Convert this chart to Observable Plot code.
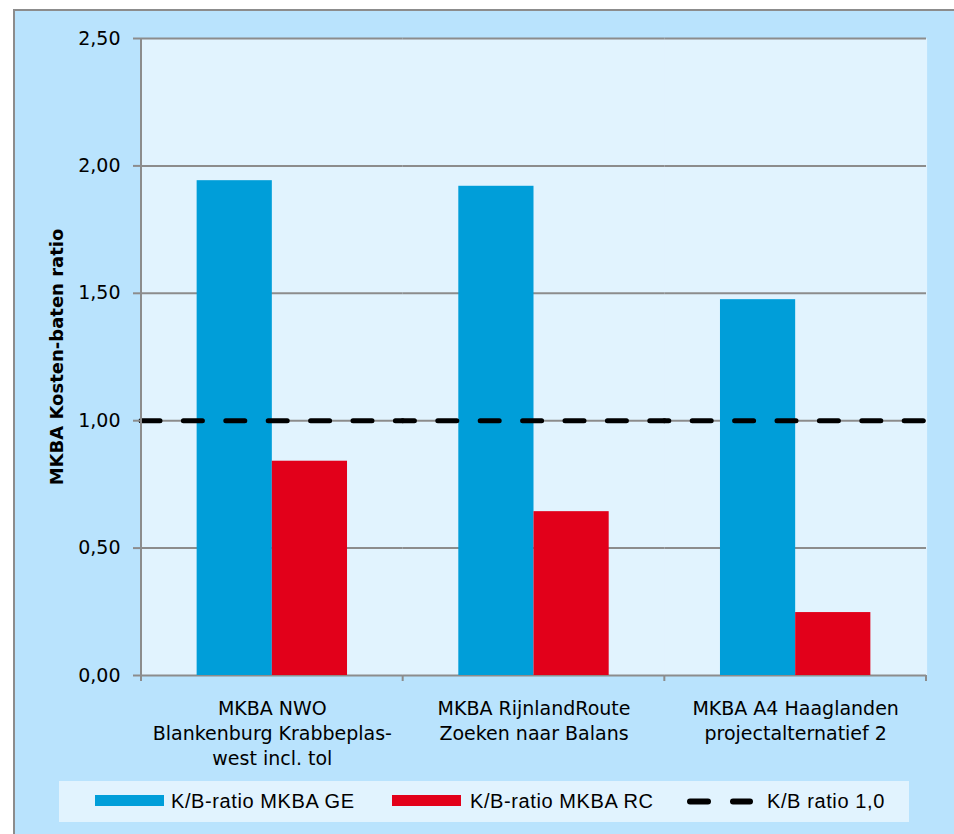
<!DOCTYPE html>
<html><head><meta charset="utf-8">
<script src="https://cdn.jsdelivr.net/npm/d3@7"></script>
<script src="https://cdn.jsdelivr.net/npm/@observablehq/plot@0.6"></script>
<style>
body{margin:0;background:#fff;}
#wrap{position:relative;width:954px;height:834px;overflow:hidden;}
#bg{position:absolute;left:13px;top:9px;width:941px;height:825px;background:#b9e3fd;border-top:2px solid #8c8c8c;border-left:2px solid #8c8c8c;box-sizing:border-box;}
#chart{position:absolute;left:0;top:0;}
#legend{position:absolute;left:59px;top:781px;width:850px;height:41px;background:#e1f3fe;font-family:"Liberation Sans",Arial,sans-serif;font-size:20px;letter-spacing:0.6px;color:#000;}
.item{position:absolute;top:0;height:41px;line-height:41px;white-space:nowrap;}
.sw{position:absolute;top:14px;height:11px;width:69px;}
</style></head>
<body><div id="wrap"><div id="bg"></div><div id="chart"></div><div id="legend"></div></div>
<script>
const categories = ["MKBA NWO\nBlankenburg Krabbeplas-\nwest incl. tol", "MKBA RijnlandRoute\nZoeken naar Balans", "MKBA A4 Haaglanden\nprojectalternatief 2"];
const seriesNames = ["K/B-ratio MKBA GE", "K/B-ratio MKBA RC"];
const geValues = [1.942, 1.920, 1.475];
const rcValues = [0.841, 0.643, 0.247];
const thresholdName = "K/B ratio 1,0";
const thresholdValue = [1.0];
const yTicks = [0, 0.5, 1, 1.5, 2, 2.5];
const yLabel = "MKBA Kosten-baten ratio";
const seriesColors = ["#009ed9", "#e2001a"];

const table = categories.flatMap((c, i) => [
  {group: c, series: seriesNames[0], value: geValues[i]},
  {group: c, series: seriesNames[1], value: rcValues[i]}
]);
const fmt = d => d.toFixed(2).replace(".", ",");
const gray = "#8c8c8c";

const W = 954, H = 780, mL = 141, mR = 28, mT = 38, mB = 105;
const facetW = (W - mL - mR) / categories.length;
const dashOn = 19, dashOff = 23.4, period = dashOn + dashOff;

const thresholdMarks = categories.map((c, i) =>
  Plot.ruleY([{group: c, v: thresholdValue[0]}], {
    fx: "group", y: "v", stroke: "#000", strokeWidth: 5,
    strokeDasharray: `${dashOn},${dashOff}`, strokeLinecap: "round",
    strokeDashoffset: (i * facetW) % period
  })
);

const plot = Plot.plot({
  width: W,
  height: H,
  marginLeft: mL,
  marginRight: mR,
  marginTop: mT,
  marginBottom: mB,
  style: {fontFamily: "DejaVu Sans, sans-serif", background: "transparent", overflow: "visible"},
  fx: {domain: categories, padding: 0, axis: null, round: false},
  x: {domain: seriesNames, paddingInner: 0, paddingOuter: 0.74, axis: null, round: false},
  y: {domain: [0, 2.5]},
  color: {domain: seriesNames, range: seriesColors},
  marks: [
    Plot.frame({fill: "#e1f3fe", stroke: "none", insetLeft: -0.6, insetRight: -0.6}),
    Plot.gridY({ticks: yTicks, stroke: gray, strokeOpacity: 1, strokeWidth: 2}),
    Plot.barY(table, {fx: "group", x: "series", y: "value", fill: "series"}),
    ...thresholdMarks,
    Plot.axisY({ticks: yTicks, tickSize: 8, tickPadding: 13, stroke: gray, strokeWidth: 2, fontSize: 19, tickFormat: fmt, label: null}),
    Plot.axisY({ticks: [], tickSize: 0, label: yLabel, labelArrow: "none", labelAnchor: "center", labelOffset: 91, fontWeight: "bold", fontSize: 18}),
    Plot.axisFx({anchor: "bottom", tickSize: 0, tickPadding: 22, fontSize: 19, lineHeight: 1.316, label: null})
  ]
});

// remove any arrow glyph the library may append to the label
d3.select(plot).selectAll("text, tspan").each(function () {
  if (this.childElementCount === 0 && /[\u2190-\u2193]/.test(this.textContent)) {
    this.textContent = this.textContent.replace(/\s*[\u2190-\u2193]\s*/g, "");
  }
});

// axis line and category separator ticks, positioned via Plot's own scales
const fxs = plot.scale("fx"), ys = plot.scale("y");
const y0 = ys.apply(0), yTop = ys.apply(2.5);
const edges = categories.map(c => fxs.apply(c));
edges.push(fxs.apply(categories[categories.length - 1]) + fxs.bandwidth);
const g = d3.select(plot).append("g").attr("stroke", gray).attr("stroke-width", 2);
g.append("line").attr("x1", edges[0]).attr("x2", edges[0]).attr("y1", yTop).attr("y2", y0 + 6);
edges.forEach(x => g.append("line").attr("x1", x).attr("x2", x).attr("y1", y0).attr("y2", y0 + 6));

document.getElementById("chart").append(plot);

// legend
const legend = document.getElementById("legend");
const items = [
  {type: "bar", color: seriesColors[0], name: seriesNames[0], sw: 36, tx: 112},
  {type: "bar", color: seriesColors[1], name: seriesNames[1], sw: 333, tx: 411},
  {type: "dash", color: "#000", name: thresholdName, sw: 628, tx: 708}
];
items.forEach(it => {
  if (it.type === "bar") {
    const s = document.createElement("div");
    s.className = "sw"; s.style.left = it.sw + "px"; s.style.background = it.color;
    legend.append(s);
  } else {
    const s = d3.create("svg").attr("width", 66).attr("height", 41)
      .style("position", "absolute").style("left", it.sw + "px").style("top", "0px");
    s.append("line").attr("x1", 3).attr("x2", 63).attr("y1", 20.5).attr("y2", 20.5)
      .attr("stroke", it.color).attr("stroke-width", 6).attr("stroke-linecap", "round")
      .attr("stroke-dasharray", "18,25");
    legend.append(s.node());
  }
  const t = document.createElement("div");
  t.className = "item"; t.style.left = it.tx + "px"; t.textContent = it.name;
  legend.append(t);
});
</script>
</body></html>
